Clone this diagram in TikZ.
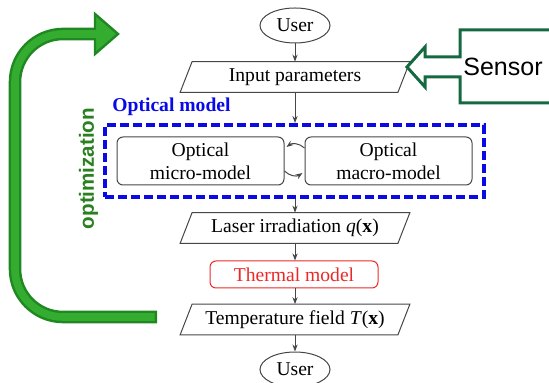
\documentclass[tikz,border=0pt]{standalone}
\usepackage{fontspec}
\setmainfont{Liberation Serif}
\newfontfamily\sansfont{Liberation Sans}
\usetikzlibrary{arrows.meta,calc,shapes.geometric}
\definecolor{flowgray}{RGB}{70,70,70}
\definecolor{optblue}{RGB}{10,10,230}
\definecolor{greenlight}{RGB}{52,172,48}
\definecolor{greendark}{RGB}{32,136,34}
\definecolor{opttext}{RGB}{40,128,30}
\definecolor{sensorgreen}{RGB}{20,105,65}
\definecolor{thermred}{RGB}{235,40,40}
\tikzset{
  txt/.style={font=\fontsize{9.8}{11.5}\selectfont, text=black},
  useroval/.style={txt, ellipse, draw=flowgray, line width=0.5pt, minimum width=35pt, minimum height=17.5pt, inner sep=0pt},
  parabox/.style={txt, rectangle, draw=none, minimum width=108.5pt, minimum height=15pt, inner sep=0pt},
  modelbox/.style={txt, rectangle, rounded corners=3pt, draw=flowgray, line width=0.5pt, minimum width=83.5pt, minimum height=24pt, align=center, inner sep=0pt},
  paraline/.style={draw=flowgray, line width=0.5pt},
  flow/.style={draw=flowgray, line width=0.5pt, -{Stealth[length=3.5pt,width=2.6pt]}},
}
\newcommand{\paradraw}[1]{%
  \draw[paraline] ($(#1.north west)+(6,0)$) -- ($(#1.north east)+(6,0)$) -- ($(#1.south east)+(-6,0)$) -- ($(#1.south west)+(-6,0)$) -- cycle;}
\begin{document}
\begin{tikzpicture}[x=0.5pt,y=-0.5pt]
\useasboundingbox (0,0) rectangle (549,383);

% main column
\node[useroval] (user1) at (295,25.5) {User};
\node[parabox] (inp) at (295,77) {Input parameters};
\paradraw{inp}
\node[draw=optblue, line width=2pt, dash pattern=on 4.5pt off 2pt, minimum width=189.5pt, minimum height=36pt, inner sep=0pt] (optbox) at (294.5,161) {};
\node[anchor=west, font=\fontsize{9.8}{11.5}\selectfont\bfseries, text=optblue, inner sep=0pt] (optlabel) at (112,107) {Optical model};
\node[modelbox] (micro) at (200.5,161) {Optical\\micro-model};
\node[modelbox] (macro) at (388.5,161) {Optical\\macro-model};
\node[parabox] (laser) at (295,228) {Laser irradiation \textit{q}(\textbf{x})};
\paradraw{laser}
\node[txt, rectangle, rounded corners=3pt, draw=thermred, line width=0.5pt, text=thermred, minimum width=84pt, minimum height=13.5pt, inner sep=0pt] (thermal) at (294,274.5) {Thermal model};
\node[parabox] (temp) at (295,319.5) {Temperature field \textit{T}(\textbf{x})};
\paradraw{temp}
\node[useroval] (user2) at (295,369.5) {User};

\draw[flow] (user1.south) -- (user1.south |- inp.north);
\draw[flow] (inp.south) -- (inp.south |- optbox.north);
\draw[flow] (optbox.south -| laser.north) -- (laser.north);
\draw[flow] (laser.south) -- (laser.south |- thermal.north);
\draw[flow] (thermal.south -| temp.north) -- (temp.north);
\draw[flow] (temp.south) -- (temp.south |- user2.north);

\draw[flow] ($(macro.west)+(0,-13)$) to[bend right=40] ($(micro.east)+(2,-14)$);
\draw[flow] ($(micro.east)+(0,10)$) to[bend right=40] ($(macro.west)+(-2,12)$);

% optimization arrow
\coordinate (gstart) at (157,317);
\coordinate (gcorner1) at (15,317);
\coordinate (gcorner2) at (15,34);
\coordinate (gend) at (98,34);
\coordinate (gendin) at (102,34);
\draw[greendark, line width=6.3pt, rounded corners=24pt] (gstart) -- (gcorner1) -- (gcorner2) -- (gend);
\draw[greendark, fill=greenlight, line width=1.2pt, line join=miter] (95,14) -- (118,34) -- (95,54) -- cycle;
\draw[greenlight, line width=3.8pt, rounded corners=24pt] ($(gstart)+(-2.5,0)$) -- (gcorner1) -- (gcorner2) -- (gendin);
\node[rotate=90, font=\sansfont\bfseries\fontsize{10.3}{12}\selectfont, text=opttext, inner sep=0pt] (optim) at (88.5,168.5) {optimization};

% sensor
\draw[sensorgreen, line width=1.5pt, line join=miter] (560,30) -- (460,30) -- (460,57) -- (425,57) -- (425,47) -- (407,67) -- (425,87) -- (425,77) -- (460,77) -- (460,103) -- (560,103);
\node[font=\sansfont\fontsize{12.5}{14}\selectfont, inner sep=0pt] (sensor) at (503,67) {Sensor};
\end{tikzpicture}
\end{document}
